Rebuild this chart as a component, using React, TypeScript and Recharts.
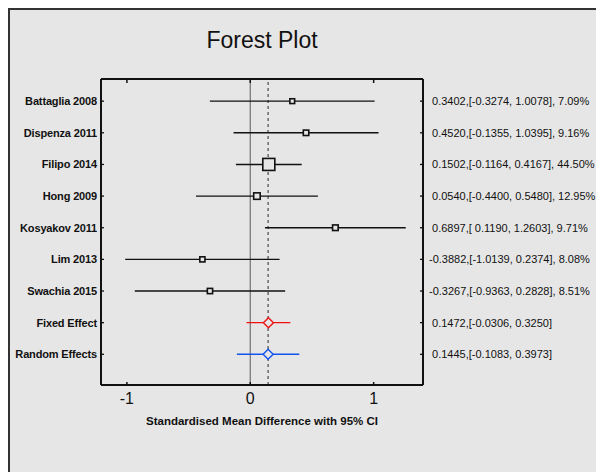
import React from 'react';
import { ScatterChart, Scatter, XAxis, YAxis, ErrorBar, ReferenceLine, Label } from 'recharts';

const studies = ['Battaglia 2008', 'Dispenza 2011', 'Filipo 2014', 'Hong 2009', 'Kosyakov 2011', 'Lim 2013', 'Swachia 2015'];
const estimates = [0.3402, 0.452, 0.1502, 0.054, 0.6897, -0.3882, -0.3267];
const lower = [-0.3274, -0.1355, -0.1164, -0.44, 0.119, -1.0139, -0.9363];
const upper = [1.0078, 1.0395, 0.4167, 0.548, 1.2603, 0.2374, 0.2828];
const weights = [7.09, 9.16, 44.5, 12.95, 9.71, 8.08, 8.51];

const summaryNames = ['Fixed Effect', 'Random Effects'];
const summaryEst = [0.1472, 0.1445];
const summaryLower = [-0.0306, -0.1083];
const summaryUpper = [0.325, 0.3973];

const xTicks = [-1, 0, 1];

const BG = '#e6e6e6';
const FONT = '"Liberation Sans", Arial, sans-serif';

const rowNames = [...studies, ...summaryNames];
const rowTicks = rowNames.map((_, i) => i + 1);

const fmt = (v: number) => (v < 0 ? '' : ' ') + v.toFixed(4);
const rightLabels = [
  ...studies.map((_, i) => `${fmt(estimates[i])},[${fmt(lower[i])}, ${upper[i].toFixed(4)}], ${weights[i].toFixed(2)}%`),
  ...summaryNames.map((_, i) => `${fmt(summaryEst[i])},[${fmt(summaryLower[i])}, ${summaryUpper[i].toFixed(4)}]`),
];

const studyData = studies.map((name, i) => ({
  name,
  x: estimates[i],
  y: i + 1,
  w: weights[i],
  err: [estimates[i] - lower[i], upper[i] - estimates[i]],
}));

const fixedData = [{ x: summaryEst[0], y: studies.length + 1, err: [summaryEst[0] - summaryLower[0], summaryUpper[0] - summaryEst[0]] }];
const randomData = [{ x: summaryEst[1], y: studies.length + 2, err: [summaryEst[1] - summaryLower[1], summaryUpper[1] - summaryEst[1]] }];

const Square = (props: any) => {
  const { cx, cy, payload } = props;
  const s = 1.8 * Math.sqrt(payload.w);
  return <rect x={cx - s / 2} y={cy - s / 2} width={s} height={s} fill={BG} stroke="#111" strokeWidth={1.6} />;
};

const diamond = (color: string) => (props: any) => {
  const { cx, cy } = props;
  const r = 5;
  return (
    <polygon
      points={`${cx - r},${cy} ${cx},${cy - r} ${cx + r},${cy} ${cx},${cy + r}`}
      fill={BG}
      stroke={color}
      strokeWidth={1.4}
    />
  );
};

const BottomTick = (props: any) => {
  const { x, y, payload } = props;
  return (
    <g>
      <line x1={x} x2={x} y1={y - 8} y2={y - 11} stroke="#111" strokeWidth={1.5} />
      <text x={x} y={y} dy="0.71em" textAnchor="middle" fontSize={16} fontFamily={FONT} fill="#111">
        {payload.value}
      </text>
    </g>
  );
};

const TopTick = (props: any) => {
  const { x, y } = props;
  return <line x1={x} x2={x} y1={y} y2={y + 4} stroke="#111" strokeWidth={1.5} />;
};

const LeftTick = (props: any) => {
  const { x, y, payload } = props;
  return (
    <g>
      <line x1={x + 4} x2={x + 7} y1={y} y2={y} stroke="#111" strokeWidth={1.3} />
      <text x={x} y={y} dy="0.35em" textAnchor="end" fontSize={11} fontWeight="bold" fontFamily={FONT} fill="#111" letterSpacing={-0.15}>
        {rowNames[payload.value - 1]}
      </text>
    </g>
  );
};

const RightTick = (props: any) => {
  const { x, y, payload } = props;
  return (
    <g>
      <line x1={x - 6} x2={x - 9} y1={y} y2={y} stroke="#111" strokeWidth={1.3} />
      <text x={x} y={y} dy="0.35em" textAnchor="start" fontSize={11} fontFamily={FONT} fill="#111" style={{ whiteSpace: 'pre' }}>
        {rightLabels[payload.value - 1]}
      </text>
    </g>
  );
};

export default function App() {
  return (
    <div
      style={{
        position: 'relative',
        width: 596,
        height: 464,
        background: BG,
        borderLeft: '2px solid #333',
        borderTop: '2px solid #333',
        boxSizing: 'border-box',
      }}
    >
      <div
        style={{
          position: 'absolute',
          left: 0,
          width: 504,
          top: 17,
          textAlign: 'center',
          fontFamily: FONT,
          fontSize: 23,
          color: '#111',
        }}
      >
        Forest Plot
      </div>
      <ScatterChart width={594} height={462} margin={{ top: 68, right: 0, bottom: 37, left: 0 }}>
        <XAxis
          xAxisId="bottom"
          type="number"
          dataKey="x"
          domain={[-1.21, 1.4]}
          ticks={xTicks}
          allowDataOverflow
          height={50}
          tickSize={0}
          tickMargin={8}
          tick={<BottomTick />}
          axisLine={{ stroke: '#111', strokeWidth: 2 }}
        >
          <Label
            value="Standardised Mean Difference with 95% CI"
            position="insideBottom"
            offset={10}
            style={{ fontSize: 11.5, fontWeight: 'bold', fontFamily: FONT, fill: '#111' }}
          />
        </XAxis>
        <XAxis
          xAxisId="top"
          orientation="top"
          type="number"
          dataKey="x"
          domain={[-1.21, 1.4]}
          ticks={xTicks}
          allowDataOverflow
          height={1}
          tickSize={0}
          tickMargin={0}
          tick={<TopTick />}
          axisLine={{ stroke: '#111', strokeWidth: 2 }}
        />
        <YAxis
          yAxisId="left"
          type="number"
          dataKey="y"
          domain={[0.3, 9.97]}
          reversed
          ticks={rowTicks}
          allowDataOverflow
          width={91}
          tickSize={0}
          tickMargin={4}
          tick={<LeftTick />}
          axisLine={{ stroke: '#111', strokeWidth: 2 }}
        />
        <YAxis
          yAxisId="right"
          orientation="right"
          type="number"
          dataKey="y"
          domain={[0.3, 9.97]}
          reversed
          ticks={rowTicks}
          allowDataOverflow
          width={181}
          tickSize={0}
          tickMargin={6}
          tick={<RightTick />}
          axisLine={{ stroke: '#111', strokeWidth: 2 }}
        />
        <ReferenceLine xAxisId="bottom" yAxisId="left" x={0} stroke="#7a7a7a" strokeWidth={1.3} />
        <ReferenceLine xAxisId="bottom" yAxisId="left" x={summaryEst[1]} stroke="#555" strokeWidth={1.3} strokeDasharray="3 3" />
        <Scatter
          data={studyData}
          xAxisId="bottom"
          yAxisId="left"
          shape={<Square />}
          isAnimationActive={false}
        >
          <ErrorBar dataKey="err" direction="x" width={0} stroke="#111" strokeWidth={1.4} />
        </Scatter>
        <Scatter
          data={fixedData}
          xAxisId="top"
          yAxisId="right"
          shape={diamond('#ee1111')}
          isAnimationActive={false}
        >
          <ErrorBar dataKey="err" direction="x" width={0} stroke="#ee1111" strokeWidth={1.4} />
        </Scatter>
        <Scatter
          data={randomData}
          xAxisId="bottom"
          yAxisId="right"
          shape={diamond('#1155ee')}
          isAnimationActive={false}
        >
          <ErrorBar dataKey="err" direction="x" width={0} stroke="#1155ee" strokeWidth={1.4} />
        </Scatter>
      </ScatterChart>
    </div>
  );
}
